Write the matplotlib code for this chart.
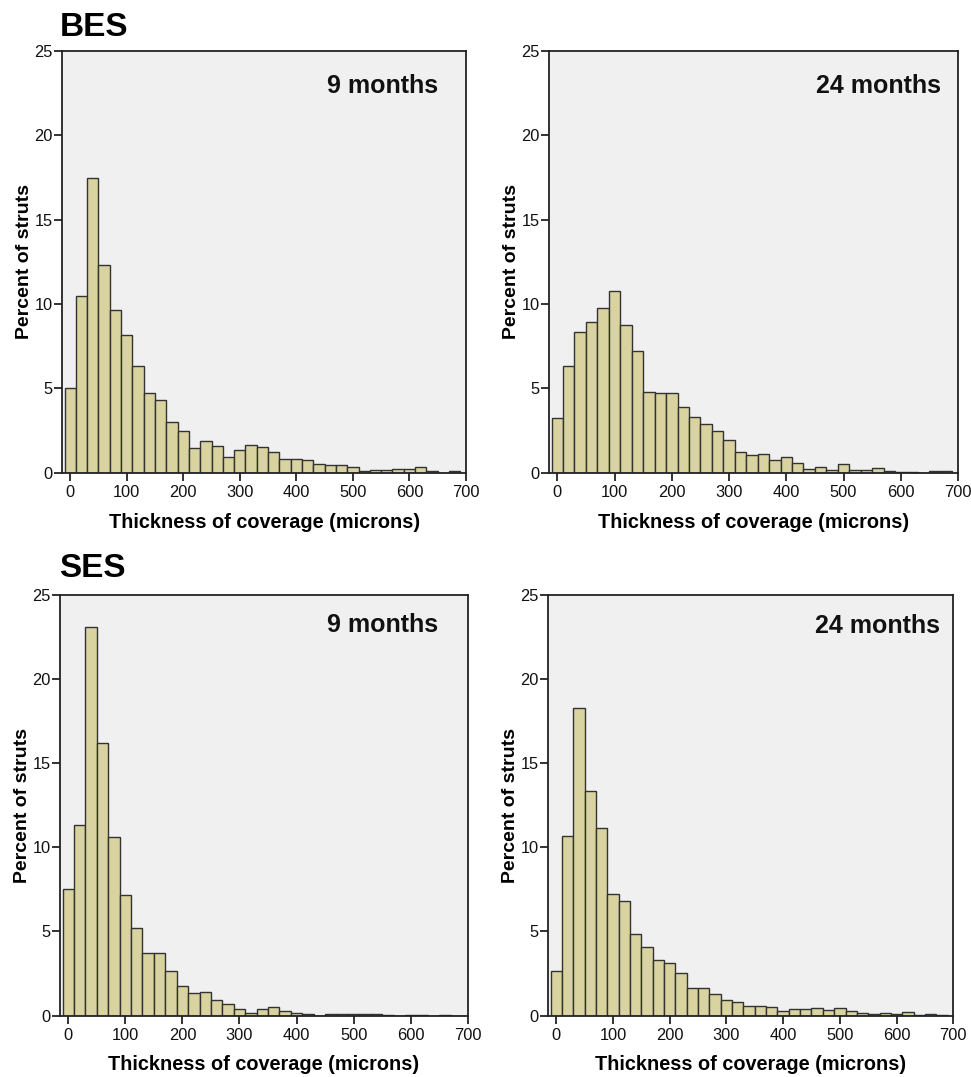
import matplotlib
matplotlib.use("Agg")
import matplotlib.pyplot as plt
import numpy as np

plt.rcParams['font.family'] = ['Liberation Sans', 'DejaVu Sans']

# Bin centres (microns), bin width 20
bin_centers = list(range(0, 700, 20))
bin_width = 20

bes_9 = [5.0, 10.5, 17.45, 12.3, 9.67, 8.18, 6.34, 4.7, 4.3, 3.0,
         2.5, 1.45, 1.86, 1.6, 0.96, 1.37, 1.62, 1.51, 1.25, 0.82,
         0.84, 0.76, 0.51, 0.45, 0.45, 0.31, 0.08, 0.18, 0.18, 0.22,
         0.22, 0.33, 0.08, 0.0, 0.08]
bes_24 = [3.23, 6.34, 8.34, 8.92, 9.78, 10.76, 8.75, 7.2, 4.79, 4.74,
          4.7, 3.9, 3.28, 2.89, 2.47, 1.95, 1.24, 1.07, 1.12, 0.75,
          0.92, 0.59, 0.22, 0.33, 0.14, 0.51, 0.17, 0.16, 0.29, 0.13,
          0.06, 0.04, 0.0, 0.09, 0.09]
ses_9 = [7.52, 11.31, 23.12, 16.22, 10.6, 7.15, 5.22, 3.69, 3.73, 2.62,
         1.77, 1.33, 1.41, 0.92, 0.7, 0.38, 0.15, 0.36, 0.52, 0.26,
         0.16, 0.1, 0.0, 0.07, 0.07, 0.11, 0.11, 0.11, 0.05, 0.0,
         0.05, 0.03, 0.0, 0.05, 0.0]
ses_24 = [2.65, 10.67, 18.29, 13.37, 11.12, 7.22, 6.78, 4.84, 4.1, 3.29,
          3.1, 2.53, 1.61, 1.66, 1.26, 0.9, 0.83, 0.55, 0.55, 0.51,
          0.25, 0.38, 0.4, 0.43, 0.31, 0.43, 0.25, 0.13, 0.09, 0.14,
          0.08, 0.19, 0.03, 0.06, 0.04]

x_ticks = [0, 100, 200, 300, 400, 500, 600, 700]
y_ticks = [0, 5, 10, 15, 20, 25]

panels = [
    (bes_9, "9 months", [62.3, 51.0, 466.0, 472.7], (0.930, 0.900)),
    (bes_24, "24 months", [549.3, 51.0, 958.0, 472.7], (0.958, 0.900)),
    (ses_9, "9 months", [60.3, 595.0, 467.7, 1015.5], (0.928, 0.912)),
    (ses_24, "24 months", [548.3, 595.0, 953.3, 1015.5], (0.968, 0.910)),
]

W, H = 971, 1077
fig = plt.figure(figsize=(W / 100, H / 100), dpi=100)

bar_color = '#d8d39f'
edge_color = '#333333'
bg_color = '#f0f0f0'

for vals, label, (l, t, r, b), (tx, ty) in panels:
    ax = fig.add_axes([l / W, 1 - b / H, (r - l) / W, (b - t) / H])
    ax.set_facecolor(bg_color)
    ax.bar(bin_centers, vals, width=bin_width, color=bar_color,
           edgecolor=edge_color, linewidth=1.0, align='center')
    ax.set_xlim(-14, 700)
    ax.set_ylim(0, 25)
    ax.set_xticks(x_ticks)
    ax.set_yticks(y_ticks)
    ax.tick_params(axis='both', direction='out', length=6, width=1.2,
                   labelsize=11.8, colors='#111111')
    ax.tick_params(axis='x', pad=3)
    ax.tick_params(axis='y', pad=1)
    for s in ax.spines.values():
        s.set_linewidth(1.3)
        s.set_color('#222222')
    ax.set_xlabel("Thickness of coverage (microns)", fontsize=14.3,
                  fontweight='bold', labelpad=9)
    ax.set_ylabel("Percent of struts", fontsize=14,
                  fontweight='bold', labelpad=1)
    ax.text(tx, ty, label, transform=ax.transAxes, ha='right',
            va='baseline', fontsize=18, fontweight='bold', color='#111111')

fig.text(60 / W, 1 - 36 / H, "BES", fontsize=24, fontweight='bold',
         ha='left', va='baseline')
fig.text(59 / W, 1 - 577 / H, "SES", fontsize=24, fontweight='bold',
         ha='left', va='baseline')

fig.savefig("out.png", dpi=100, facecolor='white')
